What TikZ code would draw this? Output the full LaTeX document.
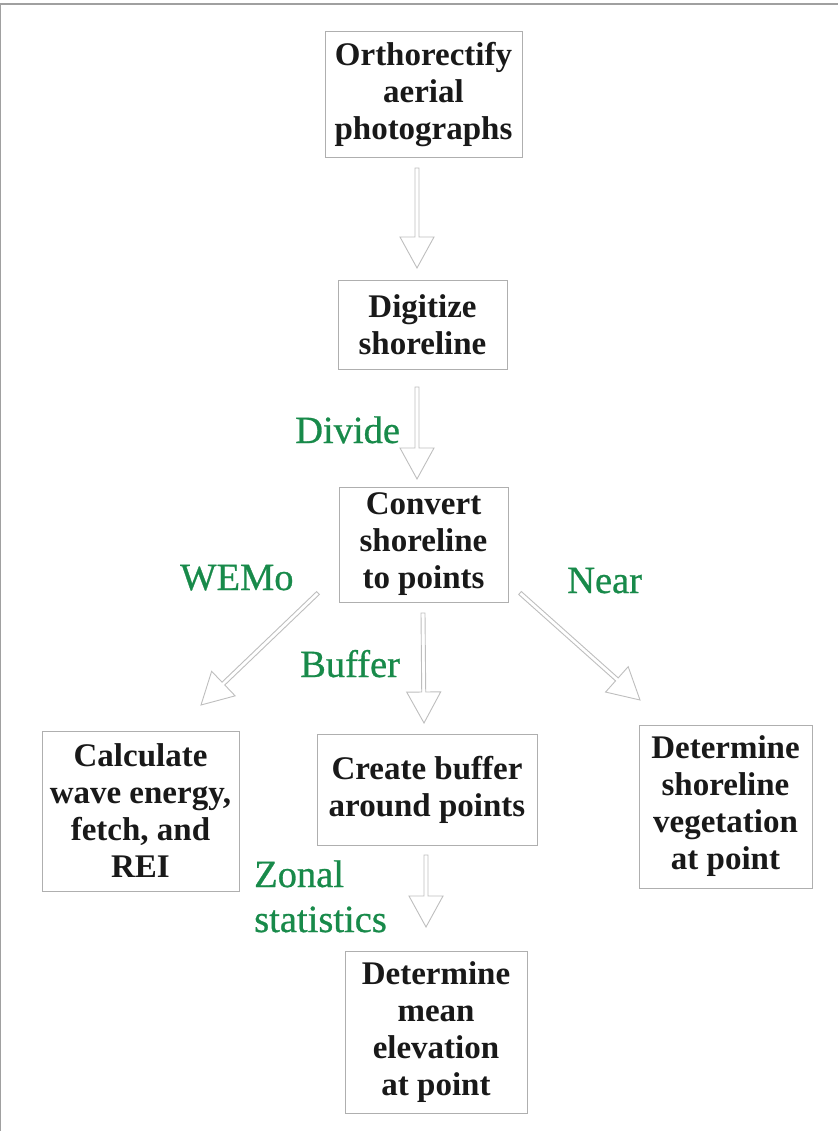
\documentclass[tikz,border=0pt]{standalone}
\usepackage{fontspec}
\setmainfont{Liberation Serif}
\newfontfamily\labfont[FakeBold=0.7]{Liberation Serif}
\usetikzlibrary{calc}
\definecolor{boxgray}{RGB}{175,175,175}
\definecolor{arrgray}{RGB}{190,190,190}
\definecolor{framegray}{RGB}{160,160,160}
\definecolor{labgreen}{RGB}{24,138,74}
\tikzset{
  stepbox/.style={draw=boxgray, line width=1pt, inner sep=0pt, align=center,
    font=\fontsize{33}{37}\selectfont\bfseries, text=black!90},
  lab/.style={inner sep=0pt, anchor=base west, text=labgreen,
    font=\labfont\fontsize{38.5}{45}\selectfont},
  arrowline/.style={draw=arrgray, line width=0.9pt, line join=miter, fill=white}
}
\newcommand\harrow[2]{%
  \coordinate (hb) at ($(#2)!31pt!(#1)$);
  \draw[arrowline] ($(#1)!2pt!90:(#2)$) -- ($(hb)!2pt!-90:(#1)$) -- ($(hb)!17pt!-90:(#1)$)
    -- (#2) -- ($(hb)!17pt!90:(#1)$) -- ($(hb)!2pt!90:(#1)$) -- ($(#1)!2pt!-90:(#2)$) -- cycle;}
\begin{document}
\begin{tikzpicture}[x=1pt,y=-1pt]
\useasboundingbox (0,0) rectangle (838,1131);
\draw[framegray, line width=1.5pt] (0,1131) -- (0,4) -- (838,4);
% boxes
\node[stepbox, minimum width=197pt, minimum height=126pt] (b1) at (423.5,95) {Orthorectify\\aerial\\photographs};
\node[stepbox, minimum width=169pt, minimum height=88pt] (b2) at (422.5,325) {Digitize\\shoreline};
\node[stepbox, minimum width=169pt, minimum height=115pt] (b3) at (423.5,544.5) {Convert\\shoreline\\to points};
\node[stepbox, minimum width=197pt, minimum height=160pt] (b4) at (140.5,811) {Calculate\\wave energy,\\fetch, and\\REI};
\node[stepbox, minimum width=220pt, minimum height=111pt] (b5) at (427,789.5) {Create buffer\\around points};
\node[stepbox, minimum width=173pt, minimum height=163pt] (b6) at (725.5,806.5) {Determine\\shoreline\\vegetation\\at point};
\node[stepbox, minimum width=182pt, minimum height=162pt] (b7) at (436,1032) {Determine\\mean\\elevation\\at point};
% labels
\node[lab] (ldiv) at (295,443) {Divide};
\node[lab] (lwem) at (180,590) {WEMo};
\node[lab] (lnear) at (567,593) {Near};
\node[lab] (lbuf) at (300,677) {Buffer};
\node[lab] (lzon) at (254,887) {Zonal};
\node[lab] (lsta) at (254,932) {statistics};
% arrow end points
\coordinate (a1s) at (417,168); \coordinate (a1e) at (417,268);
\coordinate (a2s) at (417,387); \coordinate (a2e) at (417,479);
\coordinate (a3s) at (318,593); \coordinate (a3e) at (201,705);
\coordinate (a4s) at (423,613); \coordinate (a4e) at (424,723);
\coordinate (a5s) at (520,593); \coordinate (a5e) at (640,700);
\coordinate (a6s) at (426,855); \coordinate (a6e) at (426,927);
\harrow{a1s}{a1e}
\harrow{a2s}{a2e}
\harrow{a3s}{a3e}
\harrow{a4s}{a4e}
\harrow{a5s}{a5e}
\harrow{a6s}{a6e}
\end{tikzpicture}
\end{document}
